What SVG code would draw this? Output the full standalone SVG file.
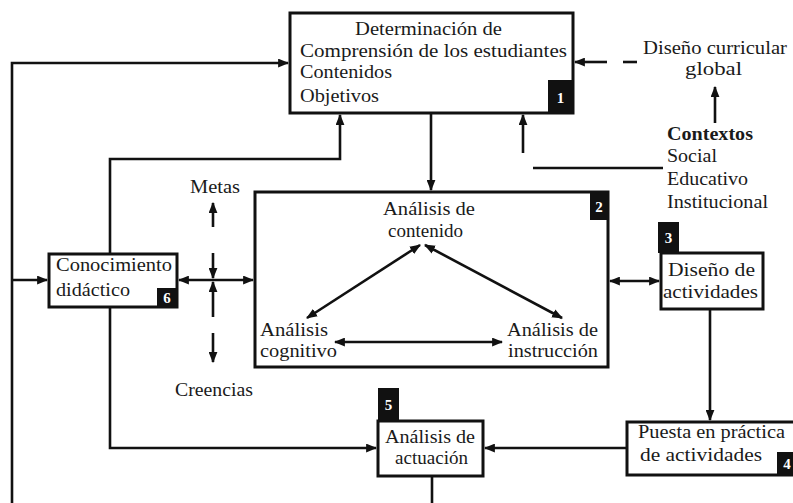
<svg xmlns="http://www.w3.org/2000/svg" width="793" height="503" viewBox="0 0 793 503">
<defs>
<style>
text{font-family:"Liberation Serif","Times New Roman",serif;font-size:18px;fill:#1a1a1a}
.b{font-weight:bold}
.box{fill:#fff;stroke:#111;stroke-width:3}
.badge{fill:#111}
.num{fill:#fff;font-weight:bold;font-size:15px;text-anchor:middle}
.ln{fill:none;stroke:#111;stroke-width:2.6}
.a{marker-end:url(#ah)}
.d{marker-start:url(#ah);marker-end:url(#ah)}
</style>
<marker id="ah" viewBox="0 0 10 8" refX="9" refY="4" markerWidth="11" markerHeight="9" orient="auto-start-reverse" markerUnits="userSpaceOnUse"><path d="M0,0 L10,4 L0,8 z" fill="#111"/></marker>
</defs>
<rect width="793" height="503" fill="#fff"/>
<g id="connectors">
<path class="ln a" d="M12,503 V63 H288"/>
<path class="ln a" d="M12,280 H47"/>
<path class="ln a" d="M110,254 V159 H340 V115"/>
<path class="ln a" d="M110,307 V448 H376"/>
<path class="ln a" d="M627,448 H485"/>
<path class="ln" d="M432,476 V503"/>
<path class="ln a" d="M710,309 V420"/>
<path class="ln d" d="M610,281 H659"/>
<path class="ln d" d="M179,280 H253"/>
<path class="ln a" d="M213,253 V278"/>
<path class="ln a" d="M213,317 V282"/>
<path class="ln a" d="M213,227 V203"/>
<path class="ln a" d="M213,333 V362"/>
<path class="ln a" d="M431,113 V190"/>
<path class="ln" d="M533,168 H663"/>
<path class="ln a" d="M523,153 V115"/>
<path class="ln a" d="M715,123 V87"/>
<path class="ln" d="M637,62 H623"/>
<path class="ln a" d="M607,62 H575"/>
</g>
<g id="n1">
<rect class="box" x="290" y="13" width="283" height="100"/>
<rect class="badge" x="548" y="80" width="25" height="33"/>
<text class="num" x="560.5" y="103">1</text>
<text x="355" y="35" textLength="147" lengthAdjust="spacingAndGlyphs">Determinación de</text>
<text x="300" y="57" textLength="267" lengthAdjust="spacingAndGlyphs">Comprensión de los estudiantes</text>
<text x="300" y="78" textLength="92" lengthAdjust="spacingAndGlyphs">Contenidos</text>
<text x="300" y="102" textLength="79" lengthAdjust="spacingAndGlyphs">Objetivos</text>
</g>
<g id="ctx">
<text x="643" y="54" textLength="144" lengthAdjust="spacingAndGlyphs">Diseño curricular</text>
<text x="685" y="75" textLength="57" lengthAdjust="spacingAndGlyphs">global</text>
<text class="b" x="667" y="140" textLength="86" lengthAdjust="spacingAndGlyphs">Contextos</text>
<text x="667" y="162" textLength="50" lengthAdjust="spacingAndGlyphs">Social</text>
<text x="667" y="185" textLength="81" lengthAdjust="spacingAndGlyphs">Educativo</text>
<text x="667" y="208" textLength="101" lengthAdjust="spacingAndGlyphs">Institucional</text>
</g>
<g id="labels">
<text x="190" y="193" textLength="50" lengthAdjust="spacingAndGlyphs">Metas</text>
<text x="175" y="396" textLength="78" lengthAdjust="spacingAndGlyphs">Creencias</text>
</g>
<g id="n2">
<rect class="box" x="255" y="192" width="353" height="175"/>
<rect class="badge" x="590" y="192" width="18" height="28"/>
<text class="num" x="599" y="212">2</text>
<text x="383" y="215" textLength="92" lengthAdjust="spacingAndGlyphs">Análisis de</text>
<text x="388" y="237" textLength="75" lengthAdjust="spacingAndGlyphs">contenido</text>
<text x="260" y="336" textLength="68" lengthAdjust="spacingAndGlyphs">Análisis</text>
<text x="260" y="357" textLength="77" lengthAdjust="spacingAndGlyphs">cognitivo</text>
<text x="507" y="336" textLength="91" lengthAdjust="spacingAndGlyphs">Análisis de</text>
<text x="508" y="357" textLength="90" lengthAdjust="spacingAndGlyphs">instrucción</text>
<g id="n2-links">
<path class="ln d" d="M420,245 L307,318"/>
<path class="ln d" d="M425,245 L562,318"/>
<path class="ln d" d="M335,342 H502"/>
</g>
</g>
<g id="n3">
<rect class="box" x="661" y="253" width="102" height="56"/>
<rect class="badge" x="658" y="222" width="21" height="31"/>
<text class="num" x="668.5" y="243">3</text>
<text x="668" y="276" textLength="87" lengthAdjust="spacingAndGlyphs">Diseño de</text>
<text x="663" y="298" textLength="95" lengthAdjust="spacingAndGlyphs">actividades</text>
</g>
<g id="n4">
<rect class="box" x="627" y="422" width="170" height="53"/>
<rect class="badge" x="777" y="452" width="20" height="23"/>
<text class="num" x="787" y="469">4</text>
<text x="638" y="438" textLength="147" lengthAdjust="spacingAndGlyphs">Puesta en práctica</text>
<text x="640" y="461" textLength="122" lengthAdjust="spacingAndGlyphs">de actividades</text>
</g>
<g id="n5">
<rect class="box" x="378" y="421" width="105" height="55"/>
<rect class="badge" x="378" y="388" width="21" height="33"/>
<text class="num" x="388.5" y="410">5</text>
<text x="385" y="443" textLength="90" lengthAdjust="spacingAndGlyphs">Análisis de</text>
<text x="395" y="464" textLength="73" lengthAdjust="spacingAndGlyphs">actuación</text>
</g>
<g id="n6">
<rect class="box" x="49" y="254" width="128" height="53"/>
<rect class="badge" x="157" y="288" width="20" height="19"/>
<text class="num" x="167" y="303">6</text>
<text x="56" y="271" textLength="116" lengthAdjust="spacingAndGlyphs">Conocimiento</text>
<text x="56" y="296" textLength="74" lengthAdjust="spacingAndGlyphs">didáctico</text>
</g>
</svg>
